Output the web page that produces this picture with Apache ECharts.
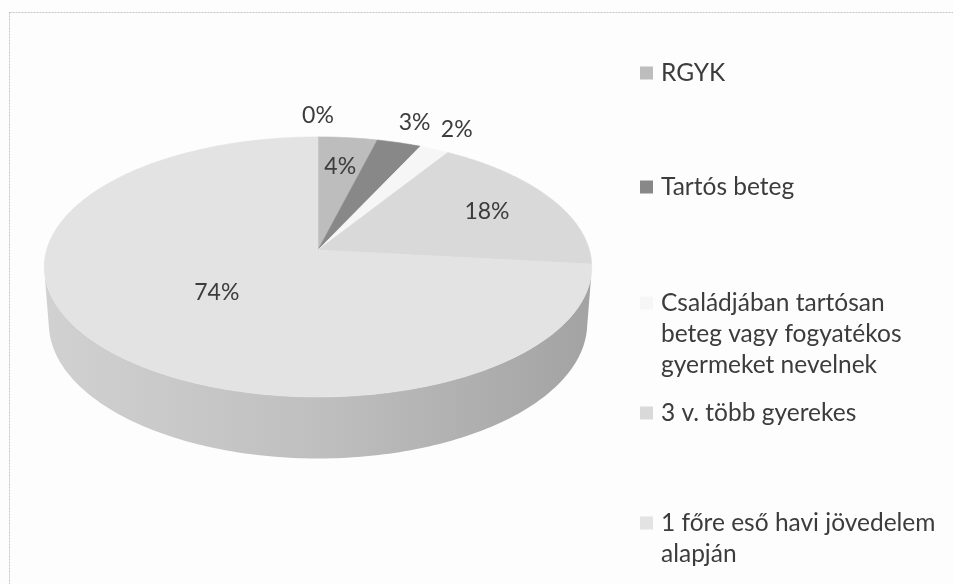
<!DOCTYPE html>
<html>
<head>
<meta charset="utf-8">
<script src="https://cdn.jsdelivr.net/npm/echarts@6/dist/echarts.min.js"></script>
<style>
html,body{margin:0;padding:0;background:#fdfdfd;}
#chart{width:953px;height:584px;}
</style>
</head>
<body>
<div id="chart"></div>
<script>
// ---- data ----
const categories = [
  'RGYK',
  'Tartós beteg',
  'Családjában tartósan beteg vagy fogyatékos gyermeket nevelnek',
  '3 v. több gyerekes',
  '1 főre eső havi jövedelem alapján',
  ''
];
const values = [4, 3, 2, 18, 74, 0];
const legendLines = [
  ['RGYK'],
  ['Tartós beteg'],
  ['Családjában tartósan', 'beteg vagy fogyatékos', 'gyermeket nevelnek'],
  ['3 v. több gyerekes'],
  ['1 főre eső havi jövedelem', 'alapján']
];

// ---- style ----
const topColors = ['#bdbdbd', '#888888', '#f6f6f6', '#d9d9d9', '#e3e3e3', '#d0d0d0'];
const textColor = '#3c3c3c';
const FONT = 'Lato';

// ---- 3D projection layout ----
const CX = 318, CY = 250, F = 1840, D0 = 6.78, H = 0.238;
const ALPHA = 28.1 * Math.PI / 180, SA = Math.sin(ALPHA), CA = Math.cos(ALPHA);
function proj(r, phiDeg, h) {
  const p = phiDeg * Math.PI / 180;
  const X = r * Math.sin(p), D = r * Math.cos(p);
  const up = D * SA + h * CA;
  const depth = D0 + D * CA - h * SA;
  return [CX + F * X / depth, CY - F * up / depth];
}
const total = values.reduce((a, b) => a + b, 0);
const visLimit = Math.acos(-1 / (D0 * CA)) * 180 / Math.PI; // wall visible range
const legendFirstLine = [73, 187, 303, 413, 523];
const LH = 31;

function shade(hex, k) {
  const n = parseInt(hex.slice(1), 16);
  const r = Math.round(((n >> 16) & 255) * k), g = Math.round(((n >> 8) & 255) * k), b = Math.round((n & 255) * k);
  return 'rgb(' + r + ',' + g + ',' + b + ')';
}

function makeRender(i) {
  return function (params, api) {
    const v = api.value(0);
    let before = 0;
    for (let j = 0; j < i; j++) before += values[j];
    const a0 = before / total * 360;
    const a1 = (before + v) / total * 360;
    const children = [];
    if (v > 0) {
      // side wall
      const w0 = Math.max(a0, visLimit), w1 = Math.min(a1, 360 - visLimit);
      if (w1 > w0) {
        const pts = [];
        const steps = Math.max(2, Math.ceil(w1 - w0));
        for (let s = 0; s <= steps; s++) pts.push(proj(1, w0 + (w1 - w0) * s / steps, 0));
        for (let s = steps; s >= 0; s--) pts.push(proj(1, w0 + (w1 - w0) * s / steps, -H));
        const c = topColors[i];
        children.push({
          type: 'polygon', z2: 1,
          shape: { points: pts },
          style: {
            fill: { type: 'linear', x: proj(1, 270, 0)[0], y: 0, x2: proj(1, 90, 0)[0], y2: 0, global: true,
              colorStops: [{ offset: 0, color: shade(c, 0.92) }, { offset: 0.5, color: shade(c, 0.84) }, { offset: 1, color: shade(c, 0.72) }] },
            stroke: null
          }
        });
      }
      // top face
      const tp = [proj(0, 0, 0)];
      const steps = Math.max(2, Math.ceil(a1 - a0));
      for (let s = 0; s <= steps; s++) tp.push(proj(1, a0 + (a1 - a0) * s / steps, 0));
      children.push({
        type: 'polygon', z2: 2,
        shape: { points: tp },
        style: { fill: topColors[i], stroke: topColors[i], lineWidth: 0.6 }
      });
    }
    // label
    const frac = v / total;
    const mid = (a0 + a1) / 2;
    const r = frac < 0.035 ? 1.22 : (frac > 0.5 ? 0.48 : 0.72);
    const lp = proj(r, mid, 0);
    children.push({
      type: 'text', z2: 10,
      style: { text: v + '%', x: lp[0], y: lp[1], align: 'center', verticalAlign: 'middle',
        fill: textColor, font: '23px ' + FONT }
    });
    return { type: 'group', children: children };
  };
}

const legends = legendLines.map((lines, i) => {
  const n = lines.length;
  const totalLines = 2 * n - 1;
  const txt = Array(n - 1).fill('').concat(lines).join('\n');
  return {
    data: [categories[i]], orient: 'vertical', left: 640,
    top: legendFirstLine[i] - totalLines * LH / 2, padding: 0,
    itemWidth: 13, itemHeight: 13, icon: 'rect', selectedMode: false,
    formatter: function () { return txt; },
    textStyle: { fontFamily: FONT, fontSize: 24.5, color: textColor, lineHeight: LH, padding: [0, 0, 0, 3] }
  };
});

const chart = echarts.init(document.getElementById('chart'));
chart.setOption({
  animation: false,
  backgroundColor: '#fdfdfd',
  color: topColors,
  legend: legends,
  graphic: [{
    type: 'rect', silent: true, z: -1,
    shape: { x: 9.5, y: 12.5, width: 1200, height: 1000 },
    style: { fill: null, stroke: '#c4c4c4', lineWidth: 1, lineDash: [2, 1] }
  }],
  series: categories.map((name, i) => ({
    type: 'custom', name: name, coordinateSystem: 'none', silent: true,
    itemStyle: { color: topColors[i] },
    data: [values[i]],
    renderItem: makeRender(i)
  }))
});
</script>
</body>
</html>
